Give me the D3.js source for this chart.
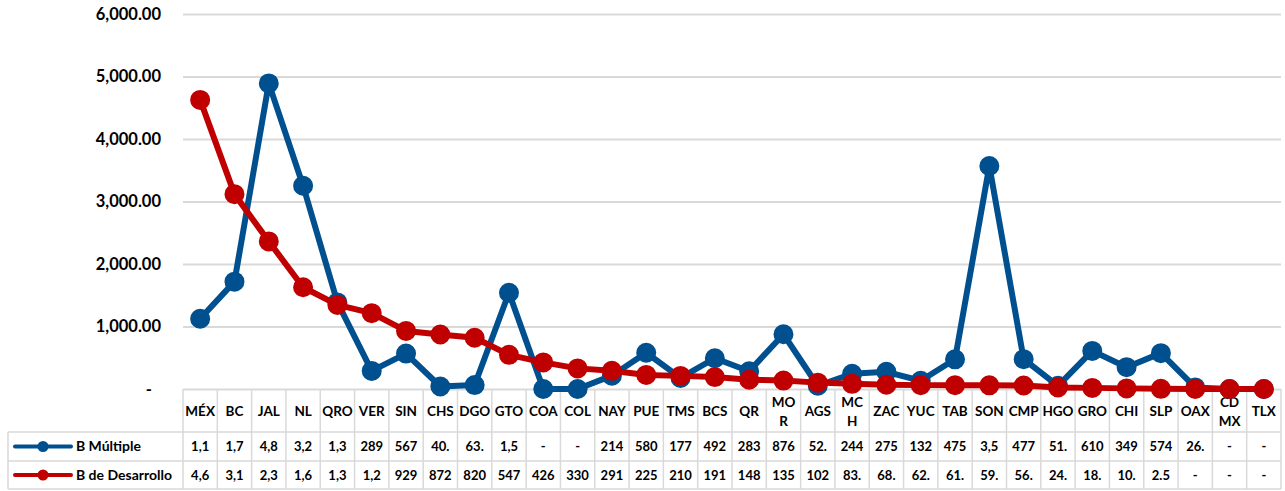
<!DOCTYPE html>
<html>
<head>
<meta charset="utf-8">
<script src="https://cdn.jsdelivr.net/npm/d3@7"></script>
<style>
body { margin: 0; background: #fff; }
text { font-family: Lato, "Open Sans", sans-serif; font-weight: bold; fill: #000; }
</style>
</head>
<body>
<div id="chart"></div>
<script>
var categories = ["MÉX","BC","JAL","NL","QRO","VER","SIN","CHS","DGO","GTO","COA","COL","NAY","PUE","TMS","BCS",
                  "QR","MOR","AGS","MCH","ZAC","YUC","TAB","SON","CMP","HGO","GRO","CHI","SLP","OAX","CDMX","TLX"];
var tickLabels = ["MÉX","BC","JAL","NL","QRO","VER","SIN","CHS","DGO","GTO","COA","COL","NAY","PUE","TMS","BCS",
                  "QR","MO\nR","AGS","MC\nH","ZAC","YUC","TAB","SON","CMP","HGO","GRO","CHI","SLP","OAX","CD\nMX","TLX"];
var bMultiple   = [1124,1718,4890,3252,1385,289,567,40,63,1540,0,0,214,580,177,492,
                   283,876,52,244,275,132,475,3568,477,51,610,349,574,26,0,0];
var bDesarrollo = [4626,3118,2362,1628,1346,1214,929,872,820,547,426,330,291,225,210,191,
                   148,135,102,83,68,62,61,59,56,24,18,10,2.5,0,0,0];
var yTicks = [0,1000,2000,3000,4000,5000,6000];
var seriesNames = ["B Múltiple","B de Desarrollo"];
var seriesColors = ["#00508f","#c00000"];

var width = 1285;
var height = 491;
var plot = { left: 183, right: 1281, top: 14, bottom: 389 };
var rows = [389, 432, 461, 489];   // header top, row1 top, row2 top, bottom
var gridColor = "#d9d9d9";

var svg = d3.select('#chart')
            .append('svg')
                .attr("width", width)
                .attr("height", height);

var xScale = d3.scaleBand()
                .domain(categories)
                .range([plot.left, plot.right]);

var yScale = d3.scaleLinear()
                .domain([0, 6000])
                .range([plot.bottom, plot.top]);

var fmt = d3.format(",.2f");

// gridlines
svg.append("g")
    .attr("transform", "translate(" + plot.left + ",0)")
    .call(d3.axisLeft(yScale).tickValues(yTicks).tickSize(-(plot.right - plot.left)).tickFormat(""))
    .call(function(g){
        g.select(".domain").remove();
        g.selectAll("line").attr("stroke", gridColor).attr("stroke-width", 2);
    });

// y labels
svg.append("g")
    .attr("transform", "translate(" + plot.left + ",0)")
    .call(d3.axisLeft(yScale).tickValues(yTicks).tickSize(0).tickPadding(22)
            .tickFormat(function(d){ return d === 0 ? "-" : fmt(d); }))
    .call(function(g){
        g.select(".domain").remove();
        g.selectAll("text")
            .attr("font-size", 16.5)
            .attr("font-family", null)
            .attr("dx", function(d){ return d === 0 ? -9 : 0; });
    });

// data table grid
var table = svg.append("g").attr("stroke", gridColor).attr("stroke-width", 1.5);
var edges = categories.map(function(c){ return xScale(c); }).concat([plot.right]);
table.selectAll("line.v")
    .data(edges)
    .enter()
    .append("line")
        .attr("x1", function(d){ return d; })
        .attr("x2", function(d){ return d; })
        .attr("y1", rows[0])
        .attr("y2", rows[3]);
table.selectAll("line.h")
    .data(rows.slice(1))
    .enter()
    .append("line")
        .attr("x1", 8)
        .attr("x2", plot.right)
        .attr("y1", function(d){ return d; })
        .attr("y2", function(d){ return d; });
table.append("line")
    .attr("x1", 8).attr("x2", 8)
    .attr("y1", rows[1]).attr("y2", rows[3]);

// category headers
var headerMid = (rows[0] + rows[1]) / 2 + 1;
var heads = svg.append("g").selectAll("text")
    .data(tickLabels)
    .enter()
    .append("text")
        .attr("text-anchor", "middle")
        .attr("font-size", 13.5)
        .attr("x", function(d, i){ return xScale(categories[i]) + xScale.bandwidth() / 2; })
        .attr("y", headerMid);
heads.each(function(d){
    var parts = d.split("\n");
    var el = d3.select(this);
    parts.forEach(function(p, k){
        el.append("tspan")
            .attr("x", el.attr("x"))
            .attr("dy", k === 0 ? ((0.35 - (parts.length - 1) * 0.7) + "em") : "1.4em")
            .text(p);
    });
});

// value rows
[bMultiple, bDesarrollo].forEach(function(series, s){
    var mid = (rows[s + 1] + rows[s + 2]) / 2;
    svg.append("g").selectAll("text")
        .data(series)
        .enter()
        .append("text")
            .attr("text-anchor", "middle")
            .attr("font-size", 13)
            .attr("x", function(d, i){ return xScale(categories[i]) + xScale.bandwidth() / 2; })
            .attr("y", mid)
            .attr("dy", "0.35em")
            .text(function(d){ return d === 0 ? "-" : fmt(d).slice(0, 3); });

    // legend key
    var key = svg.append("g");
    key.append("line")
        .attr("x1", 15).attr("x2", 71)
        .attr("y1", mid).attr("y2", mid)
        .attr("stroke", seriesColors[s])
        .attr("stroke-width", 4)
        .attr("stroke-linecap", "round");
    key.append("circle")
        .attr("cx", 43).attr("cy", mid).attr("r", 5.5)
        .attr("fill", seriesColors[s]);
    key.append("text")
        .attr("x", 76).attr("y", mid).attr("dy", "0.35em")
        .attr("font-size", 14)
        .text(seriesNames[s]);
});

// lines + markers
var lineFunc = d3.line()
                .x(function(d, i){ return xScale(categories[i]) + xScale.bandwidth() / 2; })
                .y(function(d){ return yScale(d); });

[bMultiple, bDesarrollo].forEach(function(series, s){
    svg.append("path")
        .attr("d", lineFunc(series))
        .attr("stroke", seriesColors[s])
        .attr("stroke-width", 6)
        .attr("stroke-linejoin", "round")
        .attr("fill", "none");
    svg.append("g").selectAll("circle")
        .data(series)
        .enter()
        .append("circle")
            .attr("cx", function(d, i){ return xScale(categories[i]) + xScale.bandwidth() / 2; })
            .attr("cy", function(d){ return yScale(d); })
            .attr("r", 9)
            .attr("fill", seriesColors[s])
            .attr("stroke", seriesColors[s])
            .attr("stroke-width", 2);
});
</script>
</body>
</html>
